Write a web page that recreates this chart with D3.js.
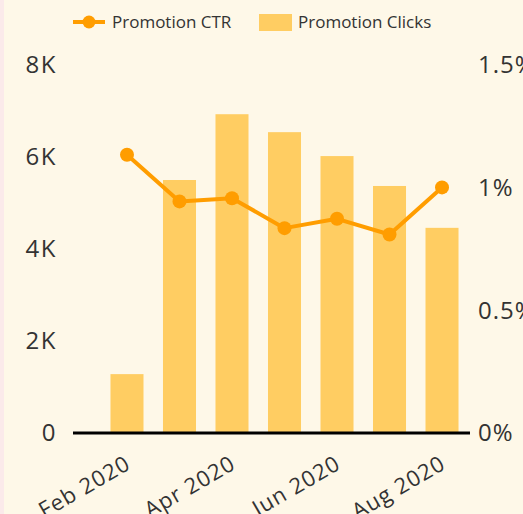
<!DOCTYPE html>
<html>
<head>
<meta charset="utf-8">
<script src="https://cdn.jsdelivr.net/npm/d3@7"></script>
<style>
  html, body { margin: 0; padding: 0; background: #fef8e8; }
  body { width: 523px; height: 514px; overflow: hidden; position: relative; }
  .strip { position: absolute; left: 0; top: 0; width: 4px; height: 514px; background: #fbeaea; }
  svg text { font-family: "Open Sans", "DejaVu Sans", sans-serif; fill: #333; }
</style>
</head>
<body>
<div class="strip"></div>
<div id="chart"></div>
<script>
"use strict";
// monthly promotion data
const months = ['Feb 2020', 'Mar 2020', 'Apr 2020', 'May 2020', 'Jun 2020', 'Jul 2020', 'Aug 2020'];
const clicks = [1280, 5500, 6930, 6540, 6020, 5370, 4460];
const ctr = [1.134, 0.944, 0.957, 0.835, 0.873, 0.809, 1.001]; // percent
const leftTicks = [0, 2000, 4000, 6000, 8000];
const rightTicks = [0, 0.5, 1, 1.5];
const shownMonths = ['Feb 2020', 'Apr 2020', 'Jun 2020', 'Aug 2020'];

const W = 523, H = 514;
const barColor = '#ffcd62', lineColor = '#ff9d00';

const svg = d3.select('#chart').append('svg').attr('width', W).attr('height', H);

const x = d3.scaleBand().domain(months).range([91, 478]).paddingInner(0.371).paddingOuter(0.371);
const yL = d3.scaleLinear().domain([0, 8000]).range([433, 65]);
const yR = d3.scaleLinear().domain([0, 1.5]).range([433, 65]);

// bars
svg.append('g').selectAll('rect').data(months).enter().append('rect')
  .attr('x', (d) => x(d)).attr('width', x.bandwidth())
  .attr('y', (d, i) => yL(clicks[i])).attr('height', (d, i) => yL(0) - yL(clicks[i]))
  .attr('fill', barColor);

// baseline
svg.append('line').attr('x1', 73).attr('x2', 470).attr('y1', yL(0)).attr('y2', yL(0))
  .attr('stroke', '#000').attr('stroke-width', 3);

// left axis labels
const fmtK = (v) => (v === 0 ? '0' : v / 1000 + 'K');
svg.append('g').selectAll('text').data(leftTicks).enter().append('text')
  .attr('x', 57).attr('y', (d) => yL(d)).attr('dy', '0.35em').attr('text-anchor', 'end')
  .style('font-size', '24px').style('letter-spacing', '1.5px').text(fmtK);

// right axis labels
svg.append('g').selectAll('text').data(rightTicks).enter().append('text')
  .attr('x', 478).attr('y', (d) => yR(d)).attr('dy', '0.35em').attr('text-anchor', 'start')
  .style('font-size', '24px').style('letter-spacing', '1px').text((d) => d + '%');

// x labels, every other month
svg.append('g').selectAll('text').data(shownMonths).enter().append('text')
  .attr('transform', (d) => 'translate(' + (x(d) + x.bandwidth() / 2 + 5) + ',468) rotate(-30)')
  .attr('text-anchor', 'end').style('font-size', '22px').style('letter-spacing', '1px').text((d) => d);

// CTR line
const cx = (d, i) => x(months[i]) + x.bandwidth() / 2;
const line = d3.line().x((d, i) => cx(d, i)).y((d) => yR(d));
svg.append('path').datum(ctr).attr('d', line).attr('fill', 'none')
  .attr('stroke', lineColor).attr('stroke-width', 4).attr('stroke-linejoin', 'round');
svg.append('g').selectAll('circle').data(ctr).enter().append('circle')
  .attr('cx', cx).attr('cy', (d) => yR(d)).attr('r', 7).attr('fill', lineColor);

// legend
const lg = svg.append('g');
lg.append('line').attr('x1', 73).attr('x2', 105).attr('y1', 22).attr('y2', 22).attr('stroke', lineColor).attr('stroke-width', 4);
lg.append('circle').attr('cx', 89).attr('cy', 22).attr('r', 6.5).attr('fill', lineColor);
lg.append('text').attr('x', 112).attr('y', 22).attr('dy', '0.35em').style('font-size', '17px').text('Promotion CTR');
lg.append('rect').attr('x', 259).attr('y', 14).attr('width', 33).attr('height', 17).attr('fill', barColor);
lg.append('text').attr('x', 298).attr('y', 22).attr('dy', '0.35em').style('font-size', '17px').text('Promotion Clicks');
</script>
</body>
</html>
